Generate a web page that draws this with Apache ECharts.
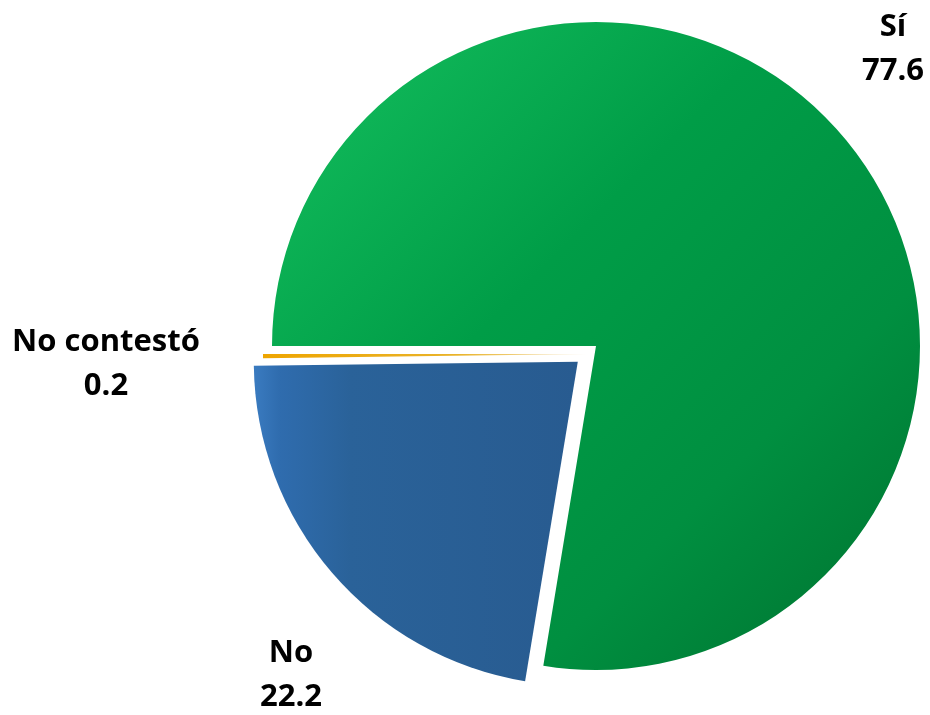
<!DOCTYPE html>
<html>
<head>
<meta charset="utf-8">
<script src="https://cdn.jsdelivr.net/npm/echarts@6/dist/echarts.min.js"></script>
<style>
html,body{margin:0;padding:0;background:#fff;}
#chart{width:930px;height:715px;}
</style>
</head>
<body>
<div id="chart"></div>
<script>
// Data
const categories = ['Sí', 'No', 'No contestó'];
const values = [77.6, 22.2, 0.2];

// Styles (not data)
const colors = [
  {type:'linear', x:0, y:0, x2:1, y2:1, colorStops:[
    {offset:0, color:'#2ed67a'}, {offset:0.15, color:'#0db356'},
    {offset:0.4, color:'#009d47'}, {offset:0.7, color:'#008f40'},
    {offset:1, color:'#00712f'}]},
  {type:'linear', x:0, y:0, x2:1, y2:0, colorStops:[
    {offset:0, color:'#3a7bc0'}, {offset:0.08, color:'#2f6cae'},
    {offset:0.3, color:'#2a6299'}, {offset:1, color:'#285b90'}]},
  {type:'linear', x:0, y:0, x2:1, y2:0, colorStops:[
    {offset:0, color:'#eea500'}, {offset:0.6, color:'#e9b32a'},
    {offset:1, color:'#f6ead0'}]}
];
const labelPos = [[893, 49], [291, 675], [106, 364]];
const center = [596, 346];
const radius = 324;
const clear = 'rgba(0,0,0,0)';

const chart = echarts.init(document.getElementById('chart'), null, {renderer:'canvas'});

// one visible slice per layer; each layer keeps the full data so angles match
function layer(visibleIndex, selectIt) {
  return categories.map((name, i) => ({
    name: name,
    value: values[i],
    selected: selectIt && i === visibleIndex,
    itemStyle: { color: i === visibleIndex ? colors[i] : clear }
  }));
}

const base = {
  type: 'pie',
  radius: radius,
  startAngle: 180,
  clockwise: true,
  avoidLabelOverlap: false,
  emphasis: { disabled: true },
  labelLine: { show: false }
};

chart.setOption({
  animation: false,
  backgroundColor: '#ffffff',
  series: [
    Object.assign({}, base, {
      center: center,
      label: {
        show: true,
        formatter: '{b}\n{c}',
        fontFamily: 'Open Sans',
        fontWeight: 'bold',
        fontSize: 31,
        lineHeight: 44,
        color: '#000',
        align: 'center'
      },
      labelLayout: function (p) {
        const pos = labelPos[p.dataIndex];
        return { x: pos[0], y: pos[1], align: 'center', verticalAlign: 'middle' };
      },
      data: layer(0, false)
    }),
    Object.assign({}, base, {
      center: center,
      selectedMode: 'multiple',
      selectedOffset: 24,
      silent: true,
      label: { show: false },
      data: layer(1, true)
    }),
    Object.assign({}, base, {
      center: [center[0], center[1] + 8],
      selectedMode: 'multiple',
      selectedOffset: 9,
      silent: true,
      label: { show: false },
      data: layer(2, true)
    })
  ]
});
</script>
</body>
</html>
